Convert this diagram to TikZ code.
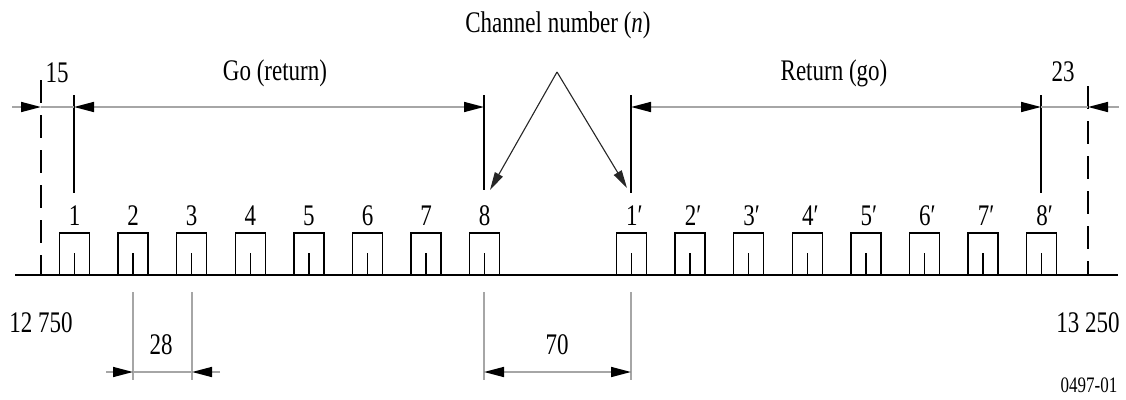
\documentclass[tikz,border=0pt]{standalone}
\usepackage{fontspec}
\setmainfont{Liberation Serif}
\usepackage{graphicx}
\usetikzlibrary{arrows.meta}
\newcommand\vs[1]{\scalebox{1}[1.3]{#1}}
\begin{document}
\begin{tikzpicture}[x=1pt,y=-1pt,
  lbl/.style={font=\fontsize{23}{23}\selectfont, inner sep=0pt},
  small/.style={font=\fontsize{17}{17}\selectfont, inner sep=0pt},
  dimline/.style={draw=gray!70, line width=1.6pt},
  extline/.style={draw=black, line width=1.1pt},
  extgray/.style={draw=gray!70, line width=1.3pt},
  bigtip/.style={-{Triangle[length=20pt,width=10pt,color=black]}},
  dbltip/.style={{Triangle[length=20pt,width=10pt,color=black]}-{Triangle[length=20pt,width=10pt,color=black]}},
  ptr/.style={draw=black!85, line width=1.1pt, -{Triangle[length=18pt,width=9pt]}},
  chbox/.style={draw=black, line width=1.5pt},
  limit/.style={draw=black, line width=1.3pt, dash pattern=on 23pt off 12pt},
  base/.style={draw=black, line width=2pt}]
\useasboundingbox (0,0) rectangle (1126,399);

% baseline
\coordinate (bl) at (15,275);
\coordinate (br) at (1118,275);
\draw[base] (bl) -- (br);

% band limits (dashed)
\coordinate (lt) at (41,80);  \coordinate (lb) at (41,275);
\coordinate (rt) at (1088,86); \coordinate (rb) at (1088,275);
\draw[limit] (lt) -- (lb);
\draw[limit] (rt) -- (rb);

% channels
\foreach \i in {1,...,8} {
  \pgfmathsetmacro\cx{74.5+58.6*(\i-1)}
  \coordinate (g\i) at (\cx,275);
  \draw[chbox] (\cx-15,275) -- (\cx-15,233) -- (\cx+15,233) -- (\cx+15,275);
  \draw[chbox] (\cx,253) -- (g\i);
  \node[lbl] (lg\i) at (\cx,216) {\vs{\i}};
  \pgfmathsetmacro\dx{631.5+58.6*(\i-1)}
  \coordinate (r\i) at (\dx,275);
  \draw[chbox] (\dx-15,275) -- (\dx-15,233) -- (\dx+15,233) -- (\dx+15,275);
  \draw[chbox] (\dx,253) -- (r\i);
  \node[lbl] (lr\i) at (\dx+3,216) {\vs{\i′}};
}

% top extension lines
\coordinate (e1t) at (74,95);   \coordinate (e1b) at (74,193);
\coordinate (e8t) at (484,95);  \coordinate (e8b) at (484,190);
\coordinate (f1t) at (631,95);  \coordinate (f1b) at (631,193);
\coordinate (f8t) at (1041,95); \coordinate (f8b) at (1041,193);
\draw[extline] (e1t) -- (e1b);
\draw[extline] (e8t) -- (e8b);
\draw[extline] (f1t) -- (f1b);
\draw[extline] (f8t) -- (f8b);

% top dimension line
\coordinate (d0) at (12,107);
\coordinate (d1) at (41,107);
\coordinate (d2) at (74,107);
\coordinate (d3) at (484,107);
\coordinate (d4) at (631,107);
\coordinate (d5) at (1041,107);
\coordinate (d6) at (1088,107);
\coordinate (d7) at (1119,107);
\draw[dimline,bigtip] (d0) -- (d1);
\draw[dimline] (d1) -- (d2);
\draw[dimline,dbltip] (d2) -- (d3);
\draw[dimline,dbltip] (d4) -- (d5);
\draw[dimline] (d5) -- (d6);
\draw[dimline,bigtip] (d7) -- (d6);

\node[lbl] (t15) at (57,73) {\vs{15}};
\node[lbl] (tgo) at (275,73) {\vs{Go (return)}};
\node[lbl] (tret) at (834,73) {\vs{Return (go)}};
\node[lbl] (t23) at (1063,72) {\vs{23}};

% channel number pointers
\node[lbl] (cn) at (558,25) {\vs{Channel number (\textit{n})}};
\coordinate (apex) at (557,72);
\coordinate (p8) at (490,190);
\coordinate (p1) at (627,188);
\draw[ptr] (apex) -- (p8);
\draw[ptr] (apex) -- (p1);

% frequency limits
\node[lbl] (f0) at (41,323) {\vs{12 750}};
\node[lbl] (f1) at (1088,323) {\vs{13 250}};

% 28 spacing
\coordinate (a2t) at (133,292); \coordinate (a2b) at (133,380);
\coordinate (a3t) at (192,292); \coordinate (a3b) at (192,380);
\draw[extgray] (a2t) -- (a2b);
\draw[extgray] (a3t) -- (a3b);
\coordinate (s0) at (106,372);
\coordinate (s1) at (133,372);
\coordinate (s2) at (192,372);
\coordinate (s3) at (220,372);
\draw[dimline,bigtip] (s0) -- (s1);
\draw[dimline] (s1) -- (s2);
\draw[dimline,bigtip] (s3) -- (s2);
\node[lbl] (l28) at (161,345) {\vs{28}};

% 70 spacing
\coordinate (b8t) at (484,292); \coordinate (b8b) at (484,380);
\coordinate (b1t) at (631,292); \coordinate (b1b) at (631,380);
\draw[extgray] (b8t) -- (b8b);
\draw[extgray] (b1t) -- (b1b);
\coordinate (u0) at (484,372);
\coordinate (u1) at (631,372);
\draw[dimline,dbltip] (u0) -- (u1);
\node[lbl] (l70) at (557,345) {\vs{70}};

\node[small] (fig) at (1089,385) {\vs{0497-01}};
\end{tikzpicture}
\end{document}
